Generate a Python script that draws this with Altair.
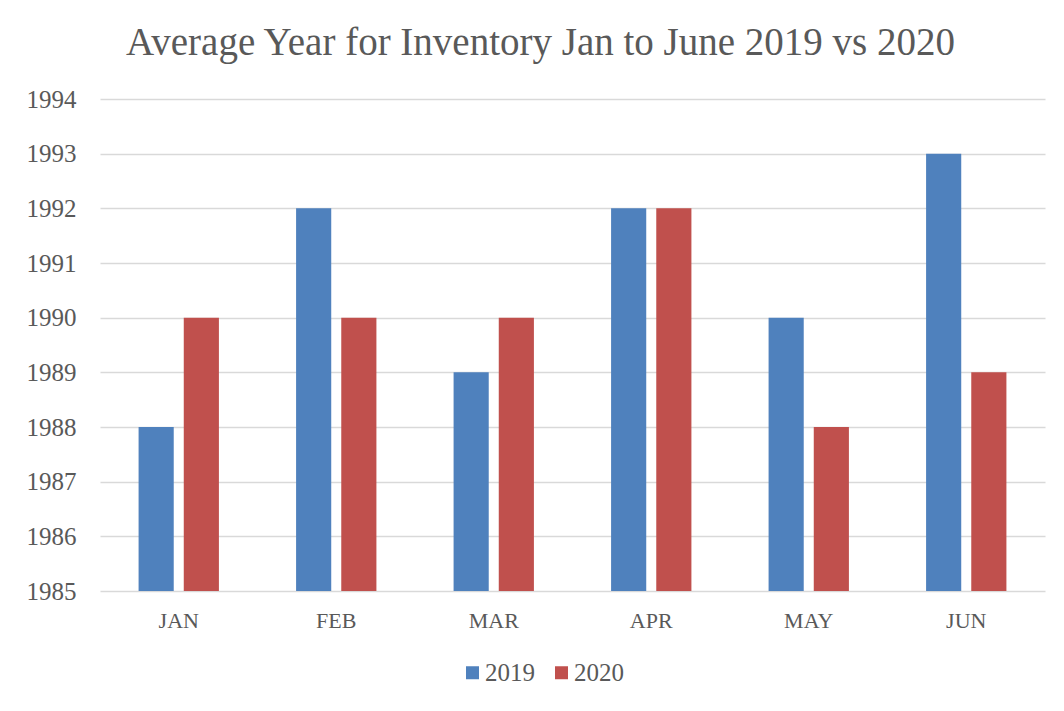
import altair as alt
import pandas as pd

months = ["JAN", "FEB", "MAR", "APR", "MAY", "JUN"]
values_2019 = [1988, 1992, 1989, 1992, 1990, 1993]
values_2020 = [1990, 1990, 1990, 1992, 1988, 1989]
series = ["2019", "2020"]
colors = ["#4F81BD", "#C0504D"]
y_ticks = list(range(1985, 1995))

rows = []
for m, a, b in zip(months, values_2019, values_2020):
    rows.append({"month": m, "series": "2019", "value": a})
    rows.append({"month": m, "series": "2020", "value": b})
df = pd.DataFrame(rows)

FONT = "Liberation Serif"
GREY = "#595959"

chart = (
    alt.Chart(df)
    .mark_bar()
    .encode(
        x=alt.X(
            "month:N",
            sort=months,
            scale=alt.Scale(paddingInner=0.49, paddingOuter=0.245),
            axis=alt.Axis(
                title=None,
                labelAngle=0,
                ticks=False,
                domain=False,
                labelFont=FONT,
                labelFontSize=22,
                labelColor=GREY,
                labelPadding=19,
            ),
        ),
        xOffset=alt.XOffset(
            "series:N", scale=alt.Scale(paddingInner=0.222, paddingOuter=0)
        ),
        y=alt.Y(
            "value:Q",
            scale=alt.Scale(domain=[1985, 1994], zero=False, nice=False),
            axis=alt.Axis(
                title=None,
                values=y_ticks,
                format="d",
                ticks=False,
                domain=False,
                labelFont=FONT,
                labelFontSize=25,
                labelColor=GREY,
                labelPadding=24,
                gridColor="#d9d9d9",
                gridWidth=1.5,
            ),
        ),
        y2=alt.datum(1985),
        color=alt.Color(
            "series:N",
            scale=alt.Scale(domain=series, range=colors),
            legend=alt.Legend(
                title=None,
                orient="none",
                legendX=360,
                legendY=561,
                direction="horizontal",
                symbolType="square",
                symbolSize=169,
                symbolStrokeWidth=0,
                labelFont=FONT,
                labelFontSize=25,
                labelColor=GREY,
                labelOffset=0,
                columnPadding=14,
            ),
        ),
    )
    .properties(
        width=945,
        height=492,
        title=alt.TitleParams(
            "Average Year for Inventory Jan to June 2019 vs 2020",
            font=FONT,
            fontSize=39,
            fontWeight="normal",
            color=GREY,
            anchor="middle",
            dx=-32,
            offset=24,
        ),
        autosize=alt.AutoSizeParams(type="none"),
        padding={"left": 92, "top": 91, "right": 8, "bottom": 100},
    )
    .configure_view(stroke=None)
)

chart.save("out.html", embed_options={"renderer": "svg", "actions": False})
